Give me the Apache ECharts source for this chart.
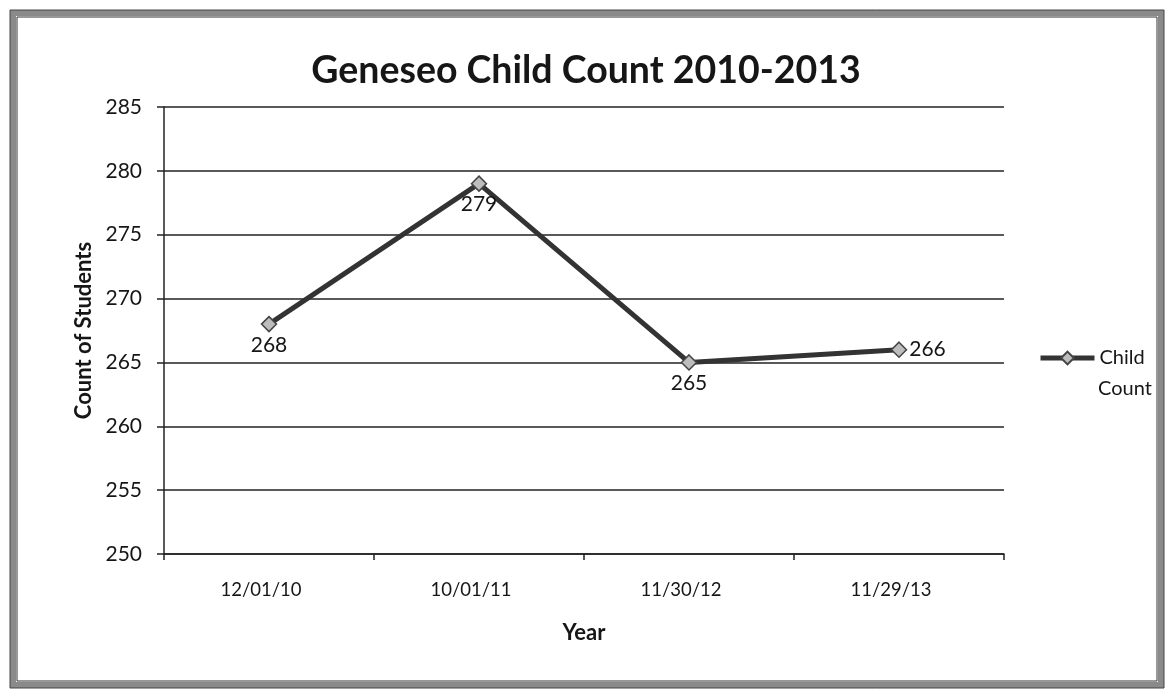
<!DOCTYPE html>
<html>
<head>
<meta charset="utf-8">
<script src="https://cdn.jsdelivr.net/npm/echarts@6/dist/echarts.min.js"></script>
<style>html,body{margin:0;padding:0;background:#fff}#c{width:1172px;height:691px}</style>
</head>
<body>
<div id="c"></div>
<script>
const categories = ['12/01/10', '10/01/11', '11/30/12', '11/29/13'];
const childCount = [268, 279, 265, 266];
const labelPositions = ['bottom', 'bottom', 'bottom', 'right'];
const yTicks = [250, 255, 260, 265, 270, 275, 280, 285];

const FONT = 'Lato, "Open Sans", sans-serif';
const INK = '#161616';
const chart = echarts.init(document.getElementById('c'));
chart.setOption({
  animation: false,
  backgroundColor: '#fff',
  graphic: [
    { type: 'rect', shape: { x: 13, y: 13, width: 1148, height: 672 }, style: { fill: 'none', stroke: '#8a8a8a', lineWidth: 6 } },
    { type: 'rect', shape: { x: 17, y: 17, width: 1140, height: 664 }, style: { fill: 'none', stroke: '#333', lineWidth: 1 } },
    { type: 'rect', shape: { x: 10, y: 10, width: 1154, height: 678 }, style: { fill: 'none', stroke: '#444', lineWidth: 1 } },
    { type: 'text', left: 1098, top: 379, style: { text: 'Count', font: '20px ' + FONT, fill: INK } }
  ],
  title: {
    text: 'Geneseo Child Count 2010-2013',
    left: 581, top: 47, textAlign: 'center',
    textStyle: { fontFamily: FONT, fontWeight: 'bold', fontSize: 37.5, color: INK }
  },
  legend: {
    left: 1033, top: 343, orient: 'vertical',
    itemWidth: 54, itemHeight: 16, itemGap: 2,
    data: [{ name: 'Child Count' }],
    formatter: () => 'Child',
    lineStyle: { width: 5, color: '#333' },
    textStyle: { fontFamily: FONT, fontSize: 20, color: INK }
  },
  grid: { left: 164, right: 168, top: 107, bottom: 137 },
  xAxis: {
    type: 'category', data: categories, boundaryGap: true,
    name: 'Year', nameLocation: 'middle', nameGap: 68,
    nameTextStyle: { fontFamily: FONT, fontWeight: 'bold', fontSize: 22, color: INK },
    axisLine: { lineStyle: { color: '#222', width: 1.5 } },
    axisTick: { show: true, length: 6, lineStyle: { color: '#222', width: 1.5 } },
    axisLabel: { fontFamily: FONT, fontSize: 18.5, color: INK, margin: 27, padding: [0, 16, 0, 0] }
  },
  yAxis: {
    type: 'value', min: 250, max: 285, interval: 5,
    name: 'Count of Students', nameLocation: 'middle', nameGap: 68,
    nameTextStyle: { fontFamily: FONT, fontWeight: 'bold', fontSize: 22, color: INK },
    axisLine: { show: true, lineStyle: { color: '#222', width: 1.5 } },
    axisTick: { show: true, length: 7, lineStyle: { color: '#222', width: 1.5 } },
    axisLabel: { fontFamily: FONT, fontSize: 21, color: INK, margin: 22,
      formatter: v => yTicks.includes(v) ? String(v) : '' },
    splitLine: { lineStyle: { color: '#222', width: 1.5 } }
  },
  series: [{
    name: 'Child Count', type: 'line', data: childCount.map((v, i) => ({
      value: v, label: { position: labelPositions[i] }
    })),
    symbol: 'diamond', symbolSize: 15,
    lineStyle: { color: '#333', width: 5 },
    itemStyle: { color: '#bdbdbd', borderColor: '#444', borderWidth: 1.5 },
    label: { show: true, fontFamily: FONT, fontSize: 21, color: INK, distance: 2 },
    z: 5
  }]
});
</script>
</body>
</html>
